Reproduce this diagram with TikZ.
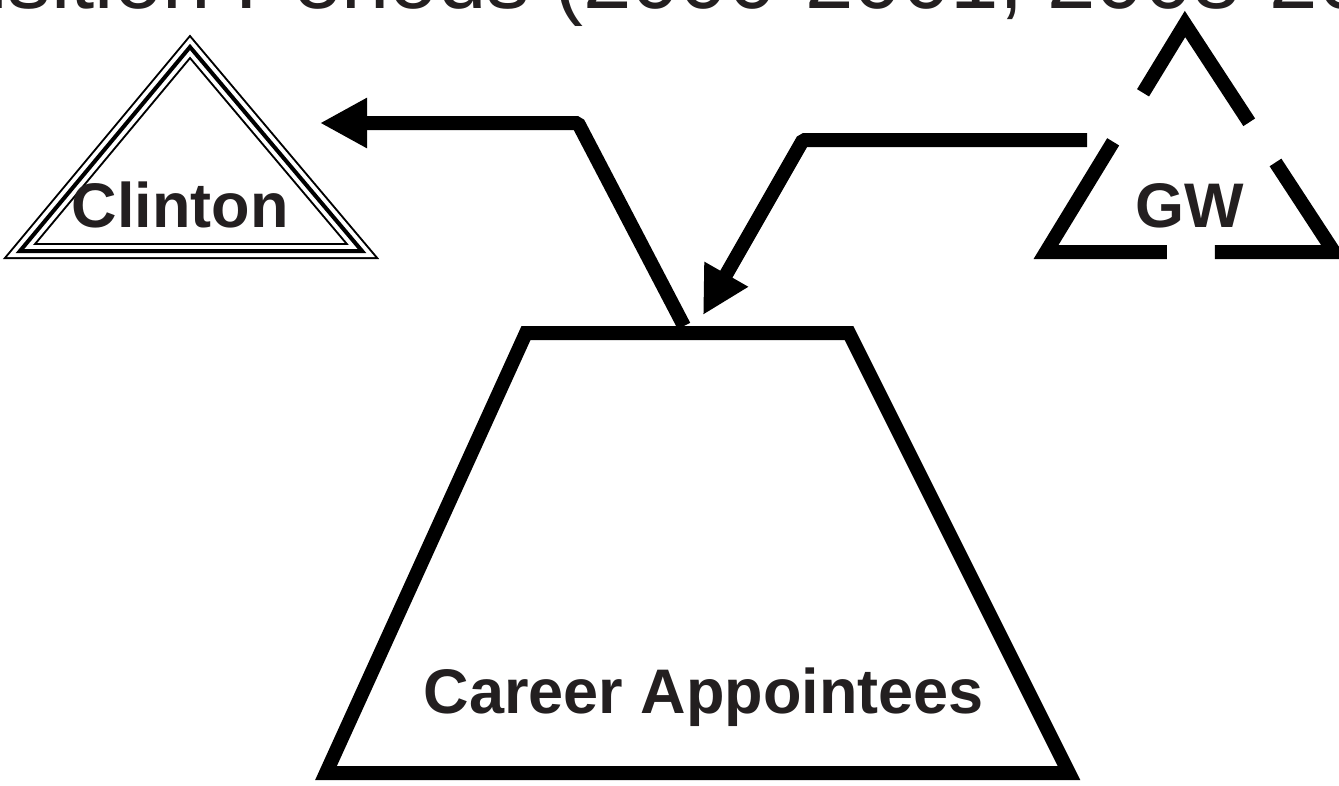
\documentclass[tikz,border=0pt]{standalone}
\usepackage{fontspec}
\setmainfont{Liberation Sans}
\usetikzlibrary{arrows.meta,calc}
\definecolor{txt}{HTML}{231F20}
\begin{document}
\begin{tikzpicture}[x=1pt,y=-1pt,
  lbl/.style={font=\bfseries\fontsize{63}{70}\selectfont, text=txt, inner sep=0pt, anchor=base},
  heavy/.style={line width=14pt, draw=black},
  conn/.style={heavy, line join=bevel, -{Triangle[length=47pt,width=47pt]}}]
\useasboundingbox (0,0) rectangle (1339,785);

% title (mostly above the visible area)
\node[anchor=base west, inner sep=0pt, font=\fontsize{87}{100}\selectfont, text=txt] (title) at (-168,8)
  {Transition Periods (2000-2001, 2008-2009)};

% Clinton triangle (compound line)
\coordinate (c1) at (190,47);
\coordinate (c2) at (20,251);
\coordinate (c3) at (362,251);
\draw[line width=16pt, black] (c1)--(c2)--(c3)--cycle;
\draw[line width=12pt, white] (c1)--(c2)--(c3)--cycle;
\draw[line width=4pt, black] (c1)--(c2)--(c3)--cycle;
\node[lbl] (clinton) at (180,227) {Clinton};

% GW triangle (dashed)
\coordinate (gA) at (1185,24);
\coordinate (gL) at (1046,252);
\coordinate (gR) at (1334,252);
\coordinate (gS) at ($(gA)!0.425!(gL)$);
\draw[heavy, dash pattern=on 250pt off 48pt on 226pt off 48pt on 198pt off 49pt, dash phase=794.5pt]
  (gS)--(gL)--(gR)--(gA)--(gS);
\node[lbl] (gw) at (1190,227) {GW};

% Career appointees trapezoid
\coordinate (t1) at (526,333);
\coordinate (t2) at (849,333);
\coordinate (t3) at (1069,773);
\coordinate (t4) at (326,773);
\draw[heavy] (t1)--(t2)--(t3)--(t4)--cycle;
\node[lbl] (career) at (704,713) {Career Appointees};

% connectors
\coordinate (careerTop) at (684,326);
\coordinate (bend1) at (578,123);
\coordinate (toClinton) at (320,123);
\draw[conn] (careerTop) -- (bend1) -- (toClinton);

\coordinate (fromGW) at (1087,140);
\coordinate (bend2) at (803,140);
\coordinate (toCareer) at (703,315);
\draw[conn] (fromGW) -- (bend2) -- (toCareer);
\end{tikzpicture}
\end{document}
